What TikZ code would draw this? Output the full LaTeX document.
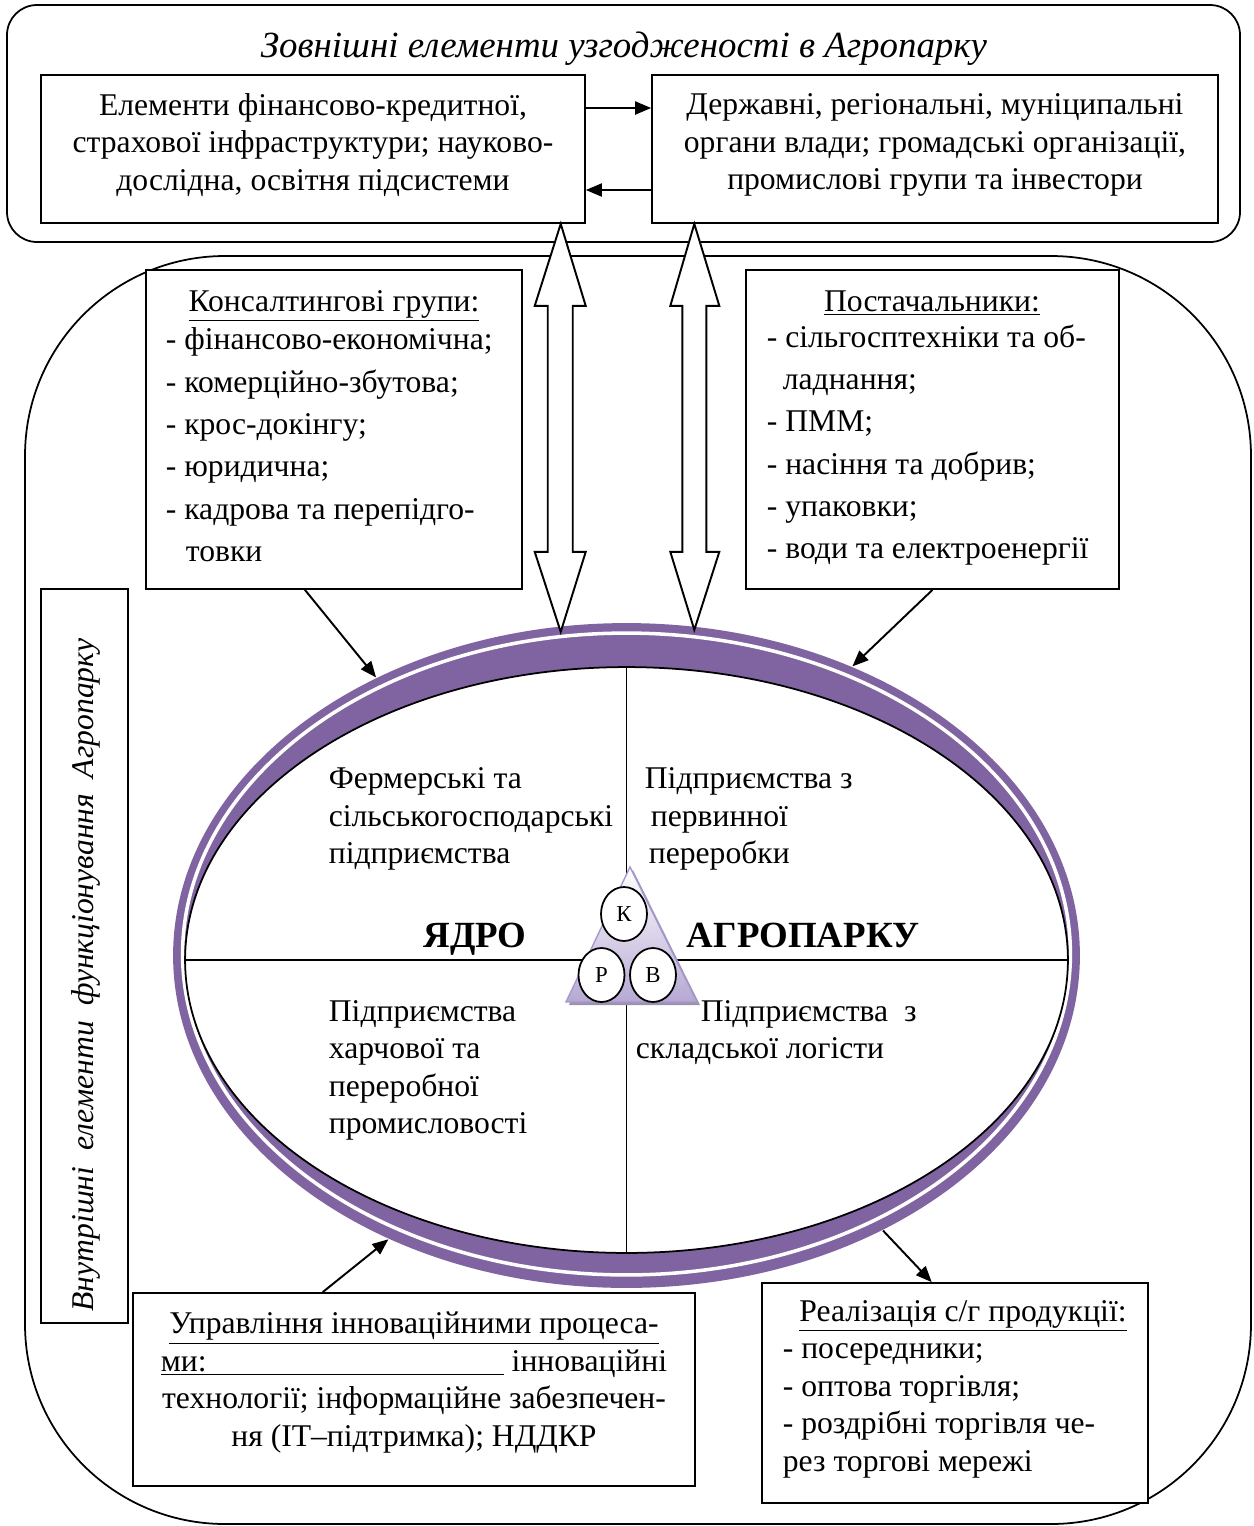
\documentclass[tikz,border=0pt]{standalone}
\usepackage{fontspec}
\setmainfont{Liberation Serif}
\usetikzlibrary{arrows.meta,calc,shapes.geometric,positioning}
\definecolor{ringpurple}{HTML}{8064A2}
\definecolor{trifill}{HTML}{B6A8D4}
\definecolor{triedge}{HTML}{A898CC}
\definecolor{trishade}{HTML}{9C92AE}

\begin{document}
\begin{tikzpicture}[x=0.02cm,y=-0.02cm,line width=1pt,
                    box/.style={draw,fill=white,inner sep=0pt},
                    txt/.style={font=\fontsize{18}{21.3}\selectfont,inner sep=0pt},
                    list/.style={font=\fontsize{18}{24.1}\selectfont,inner sep=0pt,align=left},
                    core text/.style={font=\fontsize{18}{21.3}\selectfont,inner sep=0pt,align=left},
                    big/.style={font=\fontsize{21}{24}\selectfont\bfseries,inner sep=0pt},
                    circ/.style={ellipse,draw,fill=white,inner sep=0pt,minimum width=0.92cm,
                                 minimum height=1.08cm,font=\fontsize{13}{14}\selectfont},
                    arr/.style={-{Triangle[length=3.2mm,width=2.6mm]},line width=1.1pt},
                    blockarr/.style={draw,fill=white,line width=1.1pt,line join=miter}]

  \useasboundingbox (0,0) rectangle (1254,1526);

  % frames
  \draw[rounded corners=0.6cm] (7,5) rectangle (1240,242);
  \draw[rounded corners=4cm] (25,256) rectangle (1251,1524);

  \node[txt,font=\fontsize{21}{24}\selectfont\itshape,anchor=base] (outtitle) at (624,57)
    {Зовнішні елементи узгодженості в Агропарку};

  \node[box,minimum width=10.88cm,minimum height=2.96cm] (finbox) at (313,149) {};
  \node[box,minimum width=11.32cm,minimum height=2.96cm] (govbox) at (935,149) {};
  \node[txt,align=center] (fintxt) at (313,145)
    {Елементи фінансово-кредитної,\\страхової інфраструктури; науково-\\дослідна, освітня підсистеми};
  \node[txt,align=center] (govtxt) at (935,145)
    {Державні, регіональні, муніципальні\\органи влади; громадські організації,\\промислові групи та інвестори};

  \draw[arr] (finbox.east |- 0,108) -- (govbox.west |- 0,108);
  \draw[arr] (govbox.west |- 0,190) -- (finbox.east |- 0,190);

  \node[box,minimum width=7.52cm,minimum height=6.38cm] (consbox) at (334,429.5) {};
  \node[box,minimum width=7.46cm,minimum height=6.38cm] (suppbox) at (932.5,429.5) {};
  \node[box,minimum width=1.74cm,minimum height=14.68cm] (sidebox) at (84.5,956) {};
  \node[box,minimum width=11.24cm,minimum height=3.86cm] (innbox) at (414,1389.5) {};
  \node[box,minimum width=7.72cm,minimum height=4.4cm] (salebox) at (955,1393) {};

  \node[txt,anchor=base] (constitle) at (334,311) {\underline{Консалтингові групи:}};
  \node[list,anchor=west] (conslist) at (165,445)
    {- фінансово-економічна;\\- комерційно-збутова;\\- крос-докінгу;\\- юридична;\\
     - кадрова та перепідго-\\\hspace*{0.4cm}товки};
  \node[txt,anchor=base] (supptitle) at (932,311) {\underline{Постачальники:}};
  \node[list,anchor=west] (supplist) at (766,445)
    {- сільгосптехніки та об-\\\hspace*{0.32cm}ладнання;\\- ПММ;\\- насіння та добрив;\\
     - упаковки;\\- води та електроенергії};
  \node[txt,font=\fontsize{18}{21.3}\selectfont\itshape,rotate=90] (sidetxt) at (86,975)
    {Внутрішні\ \ елементи\ \ функціонування\ \ Агропарку};

  \node[txt,align=center] (inntxt) at (414,1382.5)
    {\underline{Управління інноваційними процеса-}\\
     \underline{\makebox[6.86cm][l]{ми:}}\ інноваційні\\
     технології; інформаційне забезпечен-\\ня (ІТ–підтримка); НДДКР};
  \node[txt,anchor=base] (saletitle) at (963,1321) {\underline{Реалізація с/г продукції:}};
  \node[txt,align=left,anchor=west] (salelist) at (782,1411)
    {- посередники;\\- оптова торгівля;\\- роздрібні торгівля че-\\рез торгові мережі};

  % core of the agropark
  \node[ellipse,fill=ringpurple,inner sep=0pt,minimum width=18.14cm,minimum height=13.3cm] (ring) at (626.5,955.5) {};
  \draw[white,line width=2pt] (626.5,954) ellipse [x radius=8.88cm,y radius=6.42cm];
  \node[ellipse,draw,fill=white,inner sep=0pt,minimum width=17.66cm,minimum height=11.72cm] (core) at (626.5,960) {};
  \draw (core.west) -- (core.east);
  \draw (core.north) -- (core.south);

  \node[core text,anchor=west] (farmtxt) at (328,819)
    {Фермерські та\\сільськогосподарські\\підприємства};
  \node[core text,anchor=west] (primtxt) at (644,819)
    {Підприємства з\\\hspace*{0.12cm}первинної\\\hspace*{0.08cm}переробки};
  \node[core text,anchor=west] (foodtxt) at (328,1070.5)
    {Підприємства\\харчової та\\переробної\\промисловості};
  \node[core text,anchor=west] (logtxt) at (635,1032.5)
    {\hspace*{1.3cm}Підприємства\ \ з\\складської логісти};
  \node[big,anchor=base] (coreword) at (475,947) {ЯДРО};
  \node[big,anchor=base] (parkword) at (803,947) {АГРОПАРКУ};

  \fill[trishade] (633,870) -- (569,1005) -- (700,1005) -- cycle;
  \shade[top color=white,bottom color=trifill,draw=triedge,line width=0.8pt]
    (630,867) -- (566,1002) -- (697,1002) -- cycle;
  \node[circ] (kcirc) at (624,914) {К};
  \node[circ] (rcirc) at (601.5,975) {Р};
  \node[circ] (vcirc) at (653,975) {В};

  % links to the core
  \coordinate (lefttop) at ($(finbox.south west)!0.954!(finbox.south east)$);
  \coordinate (righttop) at ($(govbox.south west)!0.076!(govbox.south east)$);
  \draw[blockarr] (lefttop) -- ++(25,82) -- ++(-13,0) -- ++(0,246) -- ++(13,0) -- ++(-25,80)
    -- ++(-26,-80) -- ++(13,0) -- ++(0,-246) -- ++(-13,0) -- cycle;
  \draw[blockarr] (righttop) -- ++(25,82) -- ++(-13,0) -- ++(0,246) -- ++(13,0) -- ++(-25,78)
    -- ++(-24,-78) -- ++(12,0) -- ++(0,-246) -- ++(-12,0) -- cycle;

  \draw[arr] ($(consbox.south west)!0.423!(consbox.south east)$) -- (ring.132.6);
  \draw[arr] (suppbox.south) -- (ring.52.6);
  \draw[arr] ($(innbox.north west)!0.338!(innbox.north east)$) -- (ring.230);
  \draw[arr] (ring.313) -- ($(salebox.north west)!0.44!(salebox.north east)$);

\end{tikzpicture}
\end{document}
